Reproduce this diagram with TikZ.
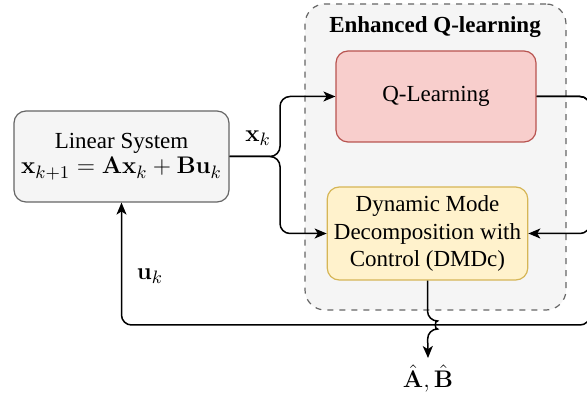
\documentclass[tikz,border=0pt]{standalone}
\usepackage{amsmath}
\usepackage{amssymb}
\usepackage[no-math]{fontspec}
\setmainfont{Liberation Serif}
\usepackage{tikz}
\usetikzlibrary{arrows.meta}
\definecolor{boxgray}{HTML}{F5F5F5}
\definecolor{linegray}{HTML}{666666}
\definecolor{qfill}{HTML}{F8CECC}
\definecolor{qline}{HTML}{B85450}
\definecolor{dfill}{HTML}{FFF2CC}
\definecolor{dline}{HTML}{D6B656}
\tikzset{
    blockbox/.style={draw, rectangle, rounded corners=6pt, line width=0.6pt, align=center,
        font=\fontsize{11.5}{13.8}\selectfont},
    mathlabel/.style={font=\fontsize{12.5}{15}\selectfont},
    flow/.style={line width=0.75pt, rounded corners=5pt, -{Stealth[length=6pt, width=5pt, inset=1.6pt]}}
}

\begin{document}
\begin{tikzpicture}[x=0.5pt, y=-0.5pt]
    \useasboundingbox (0,0) rectangle (587,399);

    % the dashed group round the learning part
    \node[draw=linegray, fill=boxgray, dashed, line width=0.6pt, rounded corners=10pt,
        minimum width=130.5pt, minimum height=153pt] (grp) at (435.5,157) {};
    \node[font=\fontsize{11.5}{13.8}\selectfont\bfseries] (title) at (435,27) {Enhanced Q-learning};

    % the blocks
    \node[blockbox, draw=linegray, fill=boxgray, minimum width=107.5pt, minimum height=45.5pt]
        (lin) at (121.5,156.5) {Linear System\\[-1pt]{\fontsize{12.5}{15}\selectfont$\mathbf{x}_{k+1}=\mathbf{A}\mathbf{x}_k+\mathbf{B}\mathbf{u}_k$}};
    \node[blockbox, draw=qline, fill=qfill, minimum width=100pt, minimum height=45.5pt]
        (ql) at (436,96.5) {Q-Learning};
    \node[blockbox, draw=dline, fill=dfill, minimum width=99.5pt, minimum height=46.5pt]
        (dmd) at (427.5,233.5) {Dynamic Mode\\Decomposition with\\Control (DMDc)};

    % labels
    \node[mathlabel] (xk) at (258,138) {$\mathbf{x}_k$};
    \node[mathlabel] (uk) at (150,276) {$\mathbf{u}_k$};
    \node[mathlabel, anchor=north] (out) at (428,358) {$\hat{\mathbf{A}},\hat{\mathbf{B}}$};

    % helper points
    \coordinate (jn) at (280,156.5);
    \coordinate (re) at (590,0);
    \coordinate (bt) at (0,325);
    \coordinate (j1) at (427.5,321);
    \coordinate (j2) at (427.5,329);

    % state to both blocks
    \draw[flow] (lin.east) -- (jn) |- (ql.west);
    \draw[flow] (lin.east) -- (jn) |- (dmd.west);

    % Q-learning back to DMDc and to the system
    \draw[flow] (ql.east) -| (re |- dmd.east) -- (dmd.east);
    \draw[flow] (ql.east) -| (re |- bt) -| (lin.south);

    % estimates out, with a jump over the feedback line
    \draw[flow] (dmd.south) -- (j1) .. controls +(7,0) and +(7,0) .. (j2) -- (out.north);
\end{tikzpicture}
\end{document}
